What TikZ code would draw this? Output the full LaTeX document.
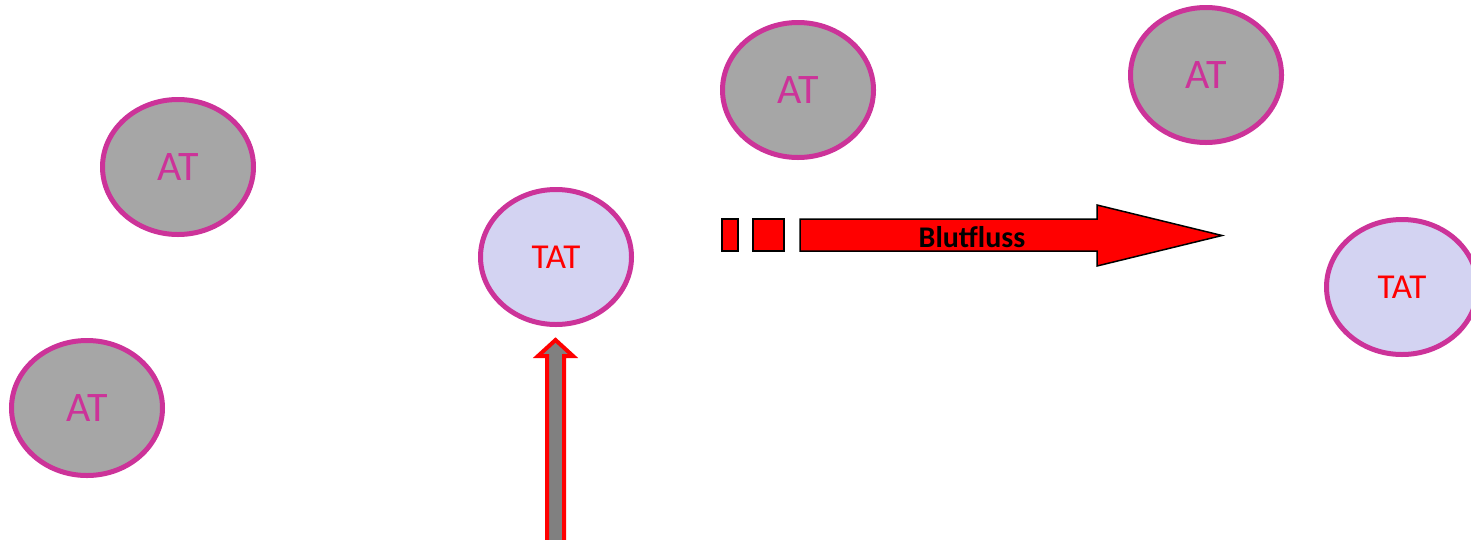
\documentclass[tikz,border=0pt]{standalone}
\usepackage{fontspec}
\setmainfont{Carlito}
\usepackage{xcolor}
\usetikzlibrary{shapes.geometric,
	positioning}
\definecolor{rim}{HTML}{CC3399}
\definecolor{atgray}{HTML}{A6A6A6}
\definecolor{tatfill}{HTML}{D3D3F2}
\definecolor{shaft}{HTML}{808080}
\tikzstyle{cell}=[ellipse, draw=rim, line width=5pt, inner sep=0,
		minimum width=151pt, minimum height=135pt]
\tikzstyle{atcell}=[cell, fill=atgray, text=rim, font=\fontsize{42}{46}\selectfont]
\tikzstyle{tatcell}=[cell, fill=tatfill, text=red, font=\fontsize{35}{40}\selectfont]
\tikzstyle{flow}=[draw=black, fill=red, line width=1.5pt, line join=miter]

\begin{document}
\begin{tikzpicture}[x=1pt, y=-1pt]
	\useasboundingbox (0,0) rectangle (1471,539);
	% cells
	\node[atcell] (at1) at (178,167) {AT};
	\node[atcell] (at2) at (87,408) {AT};
	\node[atcell] (at3) at (798,90) {AT};
	\node[atcell] (at4) at (1206,75) {AT};
	\node[tatcell] (tat1) at (556,257) {TAT};
	\node[tatcell] (tat2) at (1402,287) {TAT};
	% blood flow
	\draw[flow] (722,219) rectangle (738,251);
	\draw[flow] (753,219) rectangle (784,251);
	\draw[flow] (800,219) -- (1097,219) -- (1097,205) -- (1222,235.5)
		-- (1097,266) -- (1097,251) -- (800,251) -- cycle;
	\node[font=\bfseries\fontsize{30}{34}\selectfont] (flowlabel) at (972,237) {Blutfluss};
	% arrow up to the TAT
	\draw[draw=red, fill=shaft, line width=4pt, line join=miter]
		(547,550) -- (547,356) -- (538,356) -- (555.5,340) -- (573,356)
		-- (564,356) -- (564,550) -- cycle;
\end{tikzpicture}
\end{document}
